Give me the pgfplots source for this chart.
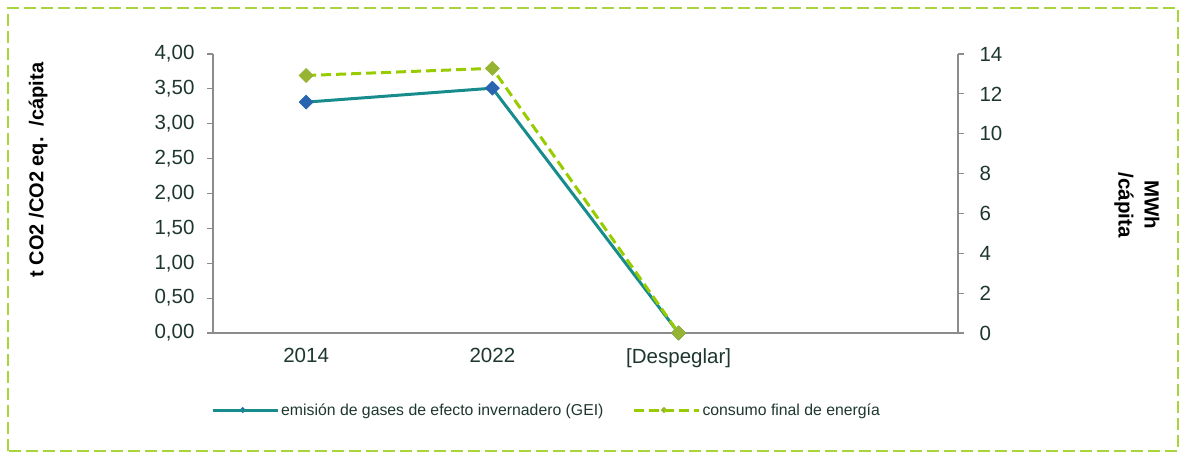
\documentclass[border=0pt]{standalone}
\usepackage{fontspec}
\setmainfont{Liberation Sans}
\usepackage{pgfplots}
\pgfplotsset{compat=1.18}
\definecolor{geiline}{RGB}{24,140,140}
\definecolor{geimark}{RGB}{40,100,175}
\definecolor{enline}{RGB}{153,204,0}
\definecolor{enmark}{RGB}{150,180,50}
\definecolor{frame}{RGB}{170,212,60}
\definecolor{axgray}{RGB}{140,140,140}
\definecolor{txt}{RGB}{30,55,45}
\begin{document}
\begin{tikzpicture}
\useasboundingbox (0pt,0pt) rectangle (1181pt,453pt);
\draw[frame, line width=2.5pt, dash pattern=on 12pt off 5pt] (8pt,2pt) rectangle (1178pt,445pt);
\pgfplotsset{
  every axis/.append style={
    scale only axis, width=745pt, height=279pt,
    at={(213pt,120pt)}, anchor=south west,
    xmin=-0.5, xmax=3.5,
    tick align=outside, major tick length=6pt,
    tick style={axgray, line width=1.2pt},
    axis line style={axgray, line width=1.5pt, -},
    tick label style={font=\fontsize{20.5}{22}\selectfont, text=txt},
    /pgf/number format/assume math mode=true,
  }
}
\begin{axis}[
  axis y line*=left, axis x line*=bottom,
  ymin=0, ymax=4, ytick={0,0.5,...,4},
  yticklabel style={xshift=-9pt, /pgf/number format/.cd, fixed, fixed zerofill, precision=2, use comma},
  xtick={0,1,2}, xticklabels={2014,2022,[Despeglar]},
  x tick style={draw=none},
  xticklabel style={yshift=-6pt},
  legend columns=2,
  legend style={draw=none, fill=none, at={(-0.0067,-0.276)}, anchor=west,
    font=\fontsize{15.8}{17}\selectfont, text=txt,
    /tikz/every even column/.append style={column sep=27pt}},
  legend image code/.code={\draw[#1] (0pt,0pt) -- (60pt,0pt); \draw[#1] plot[mark size=2pt] coordinates {(30pt,0pt)}; \path (0pt,0pt) -- (65pt,0pt);},
]
\addplot[geiline, line width=3pt, mark=square*, mark size=5pt,
  mark options={rotate=45, fill=geimark, draw=geimark, line width=0.5pt, solid}, forget plot]
  coordinates {(0,3.31) (1,3.51) (2,0)};
\addlegendimage{geiline, line width=3pt, mark=square*, mark options={rotate=45, fill=geimark, draw=geimark, line width=0.3pt, solid}}
\addlegendentry{emisión de gases de efecto invernadero (GEI)}
\addlegendimage{enline, line width=3pt, dash pattern=on 10pt off 5pt, mark=square*, mark options={rotate=45, fill=enmark, draw=enmark, line width=0.3pt, solid}}
\addlegendentry{consumo final de energía}
\end{axis}
\begin{axis}[
  axis y line*=right, axis x line=none,
  ymin=0, ymax=14, ytick={0,2,...,14},
  yticklabel style={xshift=12pt},
  xtick=\empty,
]
\addplot[enline, line width=3pt, dash pattern=on 10pt off 5pt, mark=square*, mark size=5pt,
  mark options={rotate=45, fill=enmark, draw=enmark, line width=0.5pt, solid}]
  coordinates {(0,12.92) (1,13.28) (2,0)};
\end{axis}
\node[rotate=90, font=\fontsize{20}{22}\selectfont\bfseries, text=black] at (38pt,283pt) {t CO2 /CO2 eq.\ \ /cápita};
\node[rotate=-90, align=center, font=\fontsize{20.5}{26}\selectfont\bfseries, text=black] at (1137pt,248pt) {MWh\\/cápita};
\end{tikzpicture}
\end{document}
